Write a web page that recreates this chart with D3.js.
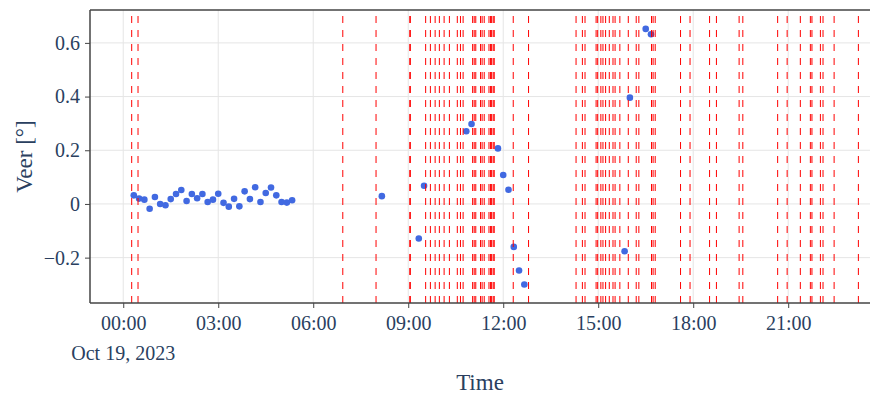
<!DOCTYPE html>
<html>
<head>
<meta charset="utf-8">
<script src="https://cdn.jsdelivr.net/npm/d3@7"></script>
<style>
  body { margin: 0; background: #fff; }
  text { font-family: "Liberation Serif", "Times New Roman", serif; fill: #2a3f5f; }
</style>
</head>
<body>
<div class="container"></div>
<script>
// measured veer values, Oct 19 2023
var dotTimes = [
  '00:20','00:30','00:40','00:50','01:00','01:10','01:20','01:30','01:40','01:50',
  '02:00','02:10','02:20','02:30','02:40','02:50','03:00','03:10','03:20','03:30',
  '03:40','03:50','04:00','04:10','04:20','04:30','04:40','04:50','05:00','05:10',
  '05:20',
  '08:10','09:20','09:30','10:50','11:00','11:50','12:00','12:10','12:20','12:30',
  '12:40','15:50','16:00','16:30','16:40'
];
var veer = [
  0.032, 0.020, 0.016, -0.018, 0.026, 0.000, -0.005, 0.018, 0.037, 0.052,
  0.011, 0.037, 0.021, 0.037, 0.007, 0.016, 0.038, 0.004, -0.010, 0.019,
  -0.009, 0.047, 0.018, 0.062, 0.007, 0.041, 0.061, 0.032, 0.007, 0.005,
  0.014,
  0.029, -0.129, 0.068, 0.271, 0.298, 0.207, 0.108, 0.053, -0.160, -0.248,
  -0.300, -0.176, 0.396, 0.652, 0.632
];

// event markers (red dashed lines)
var eventTimes = [
  '00:16','00:28','06:56','07:59','09:03','09:04','09:33','09:42','09:51','09:59',
  '10:08','10:18','10:33','10:39','10:44','11:02','11:05','11:08','11:17','11:20',
  '11:24','11:33','11:36','11:38','11:41','11:43','12:19','12:48','14:18','14:30',
  '14:35','14:56','14:59','15:05','15:09','15:14','15:21','15:28','15:32','15:41',
  '15:57','16:12','16:17','16:41','16:44','16:48','17:36','17:54','18:31','18:44',
  '19:27','19:34','20:40','20:58','21:23','21:42','21:45','22:01','22:06','22:27',
  '23:13'
];

var xTicks = ['00:00','03:00','06:00','09:00','12:00','15:00','18:00','21:00'];
var yTicks = [-0.2, 0, 0.2, 0.4, 0.6];

var parse = d3.timeParse('%Y-%m-%d %H:%M');
function day(t) { return parse('2023-10-19 ' + t); }

var width = 873;
var height = 395;
var pLeft = 90, pRight = 870, pTop = 10, pBottom = 303;

var svg = d3.select('.container')
    .append('svg')
    .attr('width', width)
    .attr('height', height);

var x = d3.scaleTime()
    .domain([parse('2023-10-18 22:57'), parse('2023-10-19 23:35')])
    .range([pLeft, pRight]);

var y = d3.scaleLinear()
    .domain([-0.369, 0.7225])
    .range([pBottom, pTop]);

// grid
svg.append('g')
    .selectAll('line')
    .data(xTicks)
    .enter()
    .append('line')
    .attr('x1', d => x(day(d)))
    .attr('x2', d => x(day(d)))
    .attr('y1', pTop)
    .attr('y2', pBottom)
    .style('stroke', '#e5e5e5')
    .style('stroke-width', 1);

svg.append('g')
    .selectAll('line')
    .data(yTicks)
    .enter()
    .append('line')
    .attr('x1', pLeft)
    .attr('x2', pRight)
    .attr('y1', d => y(d))
    .attr('y2', d => y(d))
    .style('stroke', '#e5e5e5')
    .style('stroke-width', 1);

// points
svg.append('g')
    .selectAll('circle')
    .data(dotTimes)
    .enter()
    .append('circle')
    .attr('cx', d => x(day(d)))
    .attr('cy', (d, i) => y(veer[i]))
    .attr('r', 3.3)
    .style('fill', '#4169e1');

// event lines, drawn from the bottom up
svg.append('g')
    .selectAll('line')
    .data(eventTimes)
    .enter()
    .append('line')
    .attr('x1', d => x(day(d)))
    .attr('x2', d => x(day(d)))
    .attr('y1', pBottom)
    .attr('y2', pTop)
    .style('stroke', 'red')
    .style('stroke-width', 1)
    .style('stroke-dasharray', '7,7');

// x axis
var xAxis = d3.axisBottom(x)
    .tickValues(xTicks.map(day))
    .tickSize(5)
    .tickPadding(8)
    .tickFormat(d3.timeFormat('%H:%M'));

var gx = svg.append('g')
    .attr('transform', 'translate(0,' + pBottom + ')')
    .call(xAxis);
gx.select('.domain').remove();
gx.selectAll('.tick line').style('stroke', '#444');
gx.selectAll('.tick text')
    .style('font-size', '20px')
    .style('font-family', '"Liberation Serif", serif')
    .style('fill', '#2a3f5f')
    .attr('dy', '0.71em');

svg.append('text')
    .attr('x', x(day(xTicks[0])))
    .attr('y', 360)
    .attr('text-anchor', 'middle')
    .style('font-size', '20px')
    .text('Oct 19, 2023');

// y axis
var yAxis = d3.axisLeft(y)
    .tickValues(yTicks)
    .tickSize(5)
    .tickPadding(5)
    .tickFormat(d => d == 0 ? '0' : d3.format('.1f')(d).replace('-', '\u2212'));

var gy = svg.append('g')
    .attr('transform', 'translate(' + pLeft + ',0)')
    .call(yAxis);
gy.select('.domain').remove();
gy.selectAll('.tick line').style('stroke', '#444');
gy.selectAll('.tick text')
    .style('font-size', '20px')
    .style('font-family', '"Liberation Serif", serif')
    .style('fill', '#2a3f5f');

// frame: left, bottom, top
svg.append('line')
    .attr('x1', pLeft).attr('x2', pRight)
    .attr('y1', pBottom).attr('y2', pBottom)
    .style('stroke', '#444').style('stroke-width', 1.5);
svg.append('line')
    .attr('x1', pLeft).attr('x2', pRight)
    .attr('y1', pTop).attr('y2', pTop)
    .style('stroke', '#444').style('stroke-width', 1.5);
svg.append('line')
    .attr('x1', pLeft).attr('x2', pLeft)
    .attr('y1', pTop).attr('y2', pBottom)
    .style('stroke', '#444').style('stroke-width', 1.5);

// titles
svg.append('text')
    .attr('x', (pLeft + pRight) / 2)
    .attr('y', 390)
    .attr('text-anchor', 'middle')
    .style('font-size', '23px')
    .text('Time');

svg.append('text')
    .attr('transform', 'translate(32,' + ((pTop + pBottom) / 2) + ') rotate(-90)')
    .attr('text-anchor', 'middle')
    .style('font-size', '23px')
    .text('Veer [°]');
</script>
</body>
</html>
